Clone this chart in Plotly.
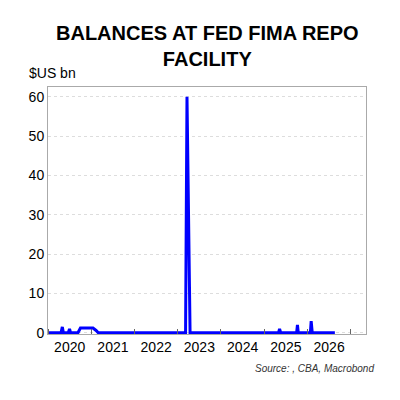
import plotly.graph_objects as go

dates = ["2020-01-01","2020-04-20","2020-05-01","2020-05-10","2020-06-20","2020-07-01","2020-07-10",
         "2020-09-10","2020-10-01","2021-01-15","2021-02-10","2021-03-01",
         "2023-03-08","2023-03-20","2023-04-15",
         "2025-05-01","2025-05-10","2025-05-20",
         "2025-10-01","2025-10-08","2025-10-15",
         "2026-01-25","2026-02-01","2026-02-10","2026-08-20"]
values = [0,0,1.5,0,0,1.0,0,
          0,1.2,1.2,0.6,0,
          0,60,0,
          0,1.0,0,
          0,2.0,0,
          0,3.0,0,0]

fig = go.Figure(go.Scatter(x=dates, y=values, mode="lines",
                           line=dict(color="#0000ff", width=3)))
fig.update_layout(
    width=400, height=400, margin=dict(l=40, r=42, t=79, b=74, autoexpand=False),
    paper_bgcolor="white", plot_bgcolor="white", showlegend=False,
    font=dict(family="Liberation Sans, Arial", color="black", size=14),
    annotations=[
        dict(text="<b>BALANCES AT FED FIMA REPO<br>FACILITY</b>", xref="paper", yref="paper",
             x=0.5, y=1.27, xanchor="center", yanchor="top", showarrow=False,
             font=dict(size=20)),
        dict(text="$US bn", xref="paper", yref="paper", x=-0.065, y=1.015, xanchor="left",
             yanchor="bottom", showarrow=False, font=dict(size=14)),
        dict(text="<i>Source: , CBA, Macrobond</i>", xref="paper", yref="paper", x=1.03, y=-0.11,
             xanchor="right", yanchor="top", showarrow=False, font=dict(size=10, color="#333")),
    ],
)
fig.update_xaxes(type="date", range=["2020-01-01", "2027-05-10"], dtick="M12", tick0="2020-01-01",
                 tickformat="%Y", ticklabelmode="period", ticks="inside", ticklen=5, tickcolor="#666",
                 showgrid=False, showline=True, linecolor="#aaa", mirror=True, tickfont=dict(size=14),
                 automargin=False)
fig.update_yaxes(range=[-0.3, 62.5], tickvals=[0,10,20,30,40,50,60], showgrid=True,
                 gridcolor="#ddd", griddash="dot", showline=True, linecolor="#aaa", mirror=True,
                 zeroline=False, ticks="", tickfont=dict(size=14), automargin=False)
fig.write_html("out.html")
